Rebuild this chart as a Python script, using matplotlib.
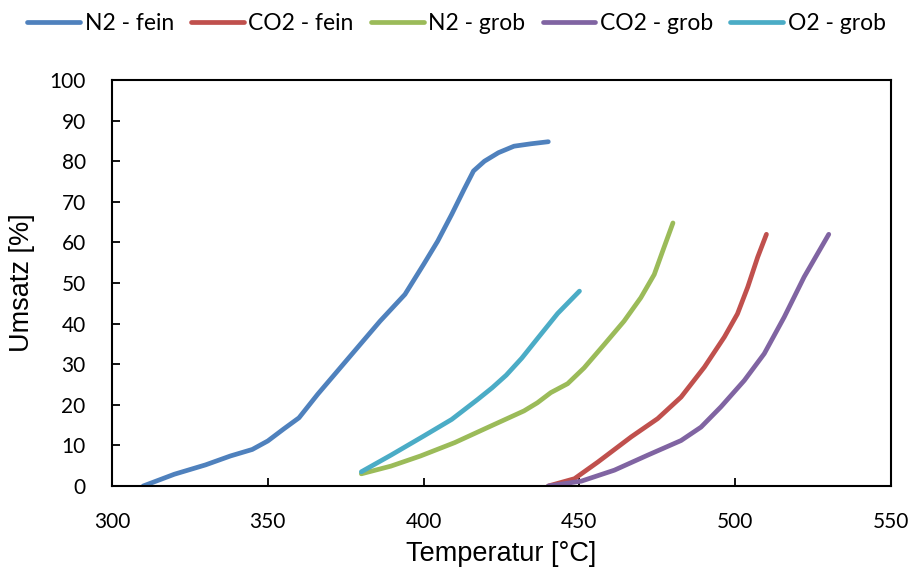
import matplotlib
matplotlib.use('Agg')
import matplotlib.pyplot as plt

# Umsatz vs. Temperatur
n2_fein_t = [310, 320, 330, 338, 345, 350, 355, 360, 366, 376, 386, 394, 400,
             404.5, 409, 413, 416, 419.5, 424, 429, 434.5, 440]
n2_fein_u = [0, 2.9, 5.2, 7.4, 9.0, 11.1, 14.0, 16.8, 22.6, 31.6, 40.6, 47.2,
             54.6, 60.3, 66.9, 73.1, 77.6, 80, 82.1, 83.7, 84.3, 84.8]

co2_fein_t = [440, 448.4, 455.9, 466.6, 475.1, 482.6, 490.1, 496.5, 500.7,
              504, 507.2, 510]
co2_fein_u = [0, 1.8, 5.9, 12.1, 16.6, 21.9, 29.3, 36.7, 42.4, 49, 56.4, 62]

n2_grob_t = [380, 389.5, 399, 410, 420.5, 432.2, 436.5, 440.8, 446.2, 451.5,
             458, 464.3, 469.7, 474, 477.1, 480]
n2_grob_u = [3, 4.9, 7.4, 10.7, 14.4, 18.5, 20.5, 23, 25.2, 29.1, 34.9, 40.6,
             46.4, 52.1, 58.7, 64.8]

co2_grob_t = [440, 450.6, 461.2, 471.9, 482.6, 489, 495.4, 502.9, 509.3,
              515.7, 522.1, 530]
co2_grob_u = [0, 1.2, 3.9, 7.6, 11.2, 14.5, 19.5, 26, 32.6, 41.6, 51.5, 62]

o2_grob_t = [380, 389.5, 400, 409, 417.3, 422, 426.5, 431.5, 436.5, 443, 450]
o2_grob_u = [3.5, 7.6, 12.3, 16.4, 21.3, 24.2, 27.3, 31.5, 36.3, 42.5, 48]

series = [
    ('N2 - fein', n2_fein_t, n2_fein_u, '#4F81BD'),
    ('CO2 - fein', co2_fein_t, co2_fein_u, '#C0504D'),
    ('N2 - grob', n2_grob_t, n2_grob_u, '#9BBB59'),
    ('CO2 - grob', co2_grob_t, co2_grob_u, '#8064A2'),
    ('O2 - grob', o2_grob_t, o2_grob_u, '#4BACC6'),
]

plt.rcParams['font.family'] = ['Liberation Sans', 'DejaVu Sans']

fig = plt.figure(figsize=(9.13, 5.74), dpi=100)
ax = fig.add_axes([0.1227, 0.1533, 0.8533, 0.7073])

for label, t, u, color in series:
    ax.plot(t, u, color=color, linewidth=3.4, solid_capstyle='round',
            solid_joinstyle='round', label=label)

ax.set_xlim(300, 550)
ax.set_ylim(0, 100)
ax.set_xticks(range(300, 551, 50))
ax.set_yticks(range(0, 101, 10))
ax.tick_params(direction='in', length=6, width=1.3, top=False, right=False,
               pad=19)
for lab in ax.get_xticklabels() + ax.get_yticklabels():
    lab.set_fontfamily('Lato')
    lab.set_fontsize(15)
for sp in ax.spines.values():
    sp.set_linewidth(1.5)

ax.set_xlabel('Temperatur [°C]', fontsize=19.5, labelpad=6)
ax.set_ylabel('Umsatz [%]', fontsize=19.5, labelpad=10)

leg = fig.legend(loc='center', bbox_to_anchor=(0.5, 1 - 24 / 574), ncol=5,
                 frameon=False, handlelength=2.3, handletextpad=0.2,
                 columnspacing=0.75, borderpad=0,
                 prop={'family': 'Lato', 'size': 16.5})

fig.savefig('out.png', dpi=100)
plt.close(fig)
